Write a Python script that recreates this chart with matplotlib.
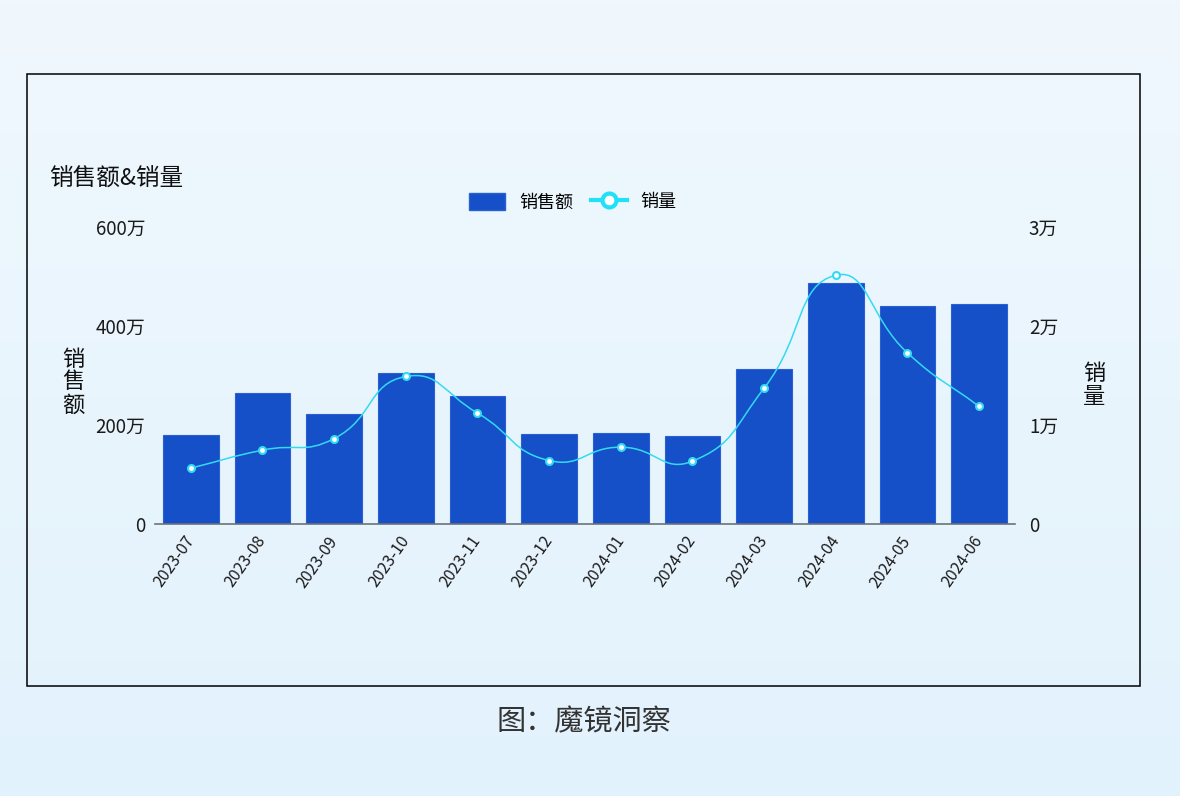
import numpy as np
import matplotlib
matplotlib.use("Agg")
import matplotlib.pyplot as plt
from matplotlib.path import Path
from matplotlib.patches import PathPatch, Rectangle, Patch
from matplotlib.lines import Line2D

plt.rcParams['font.family'] = ['Noto Sans CJK SC', 'DejaVu Sans']

# données
months = ["2023-07", "2023-08", "2023-09", "2023-10", "2023-11", "2023-12",
          "2024-01", "2024-02", "2024-03", "2024-04", "2024-05", "2024-06"]
sales = [180, 265, 223, 305, 258, 182, 184, 178, 314, 486, 440, 445]  # 万
volume = [5640, 7460, 8630, 14900, 11200, 6410, 7760, 6350, 13730, 25130, 17280, 11870]

left_ticks = [0, 200, 400, 600]
left_labels = ["0", "200万", "400万", "600万"]
right_ticks = [0, 10000, 20000, 30000]
right_labels = ["0", "1万", "2万", "3万"]

bar_color = "#1550c8"
line_color = "#33daf4"

W, H = 1180, 796
fig = plt.figure(figsize=(W / 100, H / 100), dpi=100)

# fond en dégradé
bg = fig.add_axes([0, 0, 1, 1], zorder=-10)
grad = np.linspace(0, 1, 256).reshape(-1, 1)
cmap = matplotlib.colors.LinearSegmentedColormap.from_list("bg", ["#f0f8fe", "#e2f2fc"])
bg.imshow(grad, aspect="auto", cmap=cmap, extent=[0, 1, 0, 1], origin="upper")
bg.axis("off")

# cadre noir
fig.patches.append(Rectangle((27 / W, 1 - 686 / H), 1113 / W, 612 / H, fill=False,
                             ec="black", lw=1.1, transform=fig.transFigure, zorder=5))

ax = fig.add_axes([155 / W, 1 - 524 / H, 860 / W, 297 / H])
ax.patch.set_alpha(0)
x = np.arange(len(months))
ax.bar(x, sales, width=0.78, color=bar_color, edgecolor="#2a60d4", lw=0.8, zorder=2)
ax.set_xlim(-0.5, len(months) - 0.5)
ax.set_ylim(0, 600)
ax.set_yticks(left_ticks)
ax.set_yticklabels(left_labels, fontsize=13.5, color="#1a1a1a")
ax.set_xticks(x)
ax.set_xticklabels(months, rotation=55, ha="right", rotation_mode="anchor",
                   va="center", fontsize=11.5, color="#1a1a1a")
ax.tick_params(axis="x", length=0, pad=10)
ax.tick_params(axis="y", length=0, pad=7)
for s in ["top", "left", "right"]:
    ax.spines[s].set_visible(False)
ax.spines["bottom"].set_color("#6e7079")
ax.spines["bottom"].set_linewidth(1.2)

ax2 = ax.twinx()
ax2.set_ylim(0, 30000)
ax2.set_yticks(right_ticks)
ax2.set_yticklabels(right_labels, fontsize=13.5, color="#1a1a1a")
ax2.tick_params(axis="y", length=0, pad=10)
for s in ["top", "left", "right", "bottom"]:
    ax2.spines[s].set_visible(False)

# courbe lissée (bezier, calcul en pixels)
pts = ax2.transData.transform(np.column_stack([x, volume]))
n = len(pts)
cps = []
for i in range(n):
    prev = pts[i - 1] if i > 0 else pts[i]
    nxt = pts[i + 1] if i < n - 1 else pts[i]
    v = (nxt - prev) * 0.5
    d0 = np.hypot(*(pts[i] - prev))
    d1 = np.hypot(*(nxt - pts[i]))
    tot = d0 + d1
    cps.append((pts[i] - v * d0 / tot, pts[i] + v * d1 / tot))
verts = [pts[0]]
codes = [Path.MOVETO]
for i in range(1, n):
    verts += [cps[i - 1][1], cps[i][0], pts[i]]
    codes += [Path.CURVE4] * 3
path = Path(ax2.transData.inverted().transform(np.array(verts)), codes)
ax2.add_patch(PathPatch(path, fill=False, ec=line_color, lw=1.1, zorder=3))
ax2.plot(x, volume, "o", ms=5, mfc="white", mec=line_color, mew=1.5, zorder=4)

# titres
fig.text(49 / W, 1 - 179 / H, "销售额&销量", fontsize=17, ha="left", va="center", color="#111")
fig.text(73 / W, 1 - 382 / H, "销\n售\n额", fontsize=16, ha="center", va="center",
         linespacing=1.0, color="#111")
fig.text(1094 / W, 1 - 385 / H, "销\n量", fontsize=16, ha="center", va="center",
         linespacing=1.0, color="#111")
fig.text(584 / W, 1 - 722 / H, "图：魔镜洞察", fontsize=21, ha="center", va="center",
         color="#333", fontweight="light")

handles = [Patch(facecolor=bar_color, edgecolor="#2a60d4"),
           Line2D([0], [0], color="#22e0f8", lw=3, marker="o", ms=10, mfc="white",
                  mec="#22e0f8", mew=3)]
fig.legend(handles, ["销售额", "销量"], loc="center", bbox_to_anchor=(573 / W, 1 - 202 / H),
           ncol=2, frameon=False, fontsize=13, handlelength=2.0, handleheight=1.1,
           columnspacing=1.0, handletextpad=0.75)

fig.savefig("out.png", dpi=100)
